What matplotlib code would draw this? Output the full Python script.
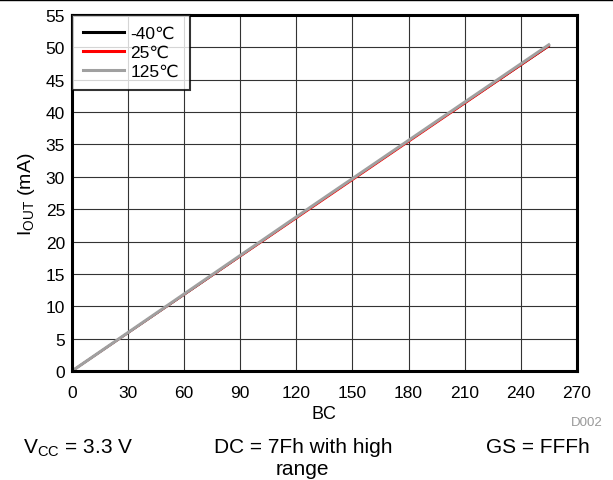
import matplotlib
matplotlib.use("Agg")
import matplotlib.pyplot as plt
from matplotlib.lines import Line2D

plt.rcParams['font.family'] = ['Liberation Sans', 'DejaVu Sans']

bc = [0, 64, 128, 192, 255]
i_m40 = [0.0, 12.6, 25.3, 37.9, 50.2]
i_25 = [0.0, 12.6, 25.2, 37.8, 50.2]
i_125 = [0.0, 12.7, 25.4, 38.0, 50.4]
labels = ['-40℃', '25℃', '125℃']
colors = ['black', 'red', '#a0a0a0']

fig = plt.figure(figsize=(6.13, 4.81), dpi=100)
ax = fig.add_axes([0.1175, 0.2266, 0.8235, 0.74])

ax.plot(bc, i_m40, color=colors[0], lw=1.5, label=labels[0])
ax.plot(bc, i_25, color=colors[1], lw=1.5, label=labels[1])
ax.plot(bc, i_125, color=colors[2], lw=2.2, label=labels[2])

ax.set_xlim(0, 270)
ax.set_ylim(0, 55)
ax.set_xticks(range(0, 271, 30))
ax.set_yticks(range(0, 56, 5))
ax.grid(True, color='#333333', lw=0.8)
ax.tick_params(length=0, labelsize=12.5)
ax.tick_params(axis='x', pad=10)
ax.tick_params(axis='y', pad=5)
for s in ax.spines.values():
    s.set_linewidth(2.2)
    s.set_color('black')

ax.set_xlabel('BC', fontsize=13, labelpad=4)
ax.set_ylabel(r'I$_{\mathregular{OUT}}$ (mA)', fontsize=14, labelpad=6)

leg = ax.legend(loc='upper left', fontsize=12.5, frameon=True, fancybox=False,
                borderaxespad=0.0, handlelength=2.4, handletextpad=0.35,
                labelspacing=0.22, borderpad=0.62)
for h in leg.get_lines():
    h.set_linewidth(2.2)
leg.get_frame().set_edgecolor('black')
leg.get_frame().set_linewidth(1.5)

fig.add_artist(Line2D([0, 1], [0.997, 0.997], transform=fig.transFigure, color='black', lw=1))

fig.text(0.983, 0.1206, 'D002', fontsize=9.5, color='#999999', ha='right', va='center')
fig.text(0.0375, 0.0582, r'V$_{\mathregular{CC}}$ = 3.3 V', fontsize=15, ha='left', va='baseline')
fig.text(0.494, 0.0582, 'DC = 7Fh with high', fontsize=15, ha='center', va='baseline')
fig.text(0.494, 0.0125, 'range', fontsize=15, ha='center', va='baseline')
fig.text(0.9625, 0.0582, 'GS = FFFh', fontsize=15, ha='right', va='baseline')

fig.savefig('out.png', dpi=100)
